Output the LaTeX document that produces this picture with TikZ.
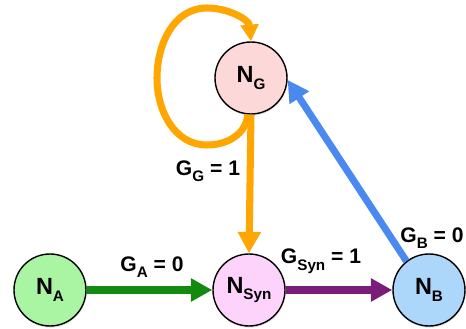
\documentclass[tikz,border=0pt]{standalone}
\usepackage{fontspec}
\setmainfont{Liberation Sans}
\usepackage{xcolor}
\usepackage{tikz}
\usetikzlibrary{arrows.meta,shadows}

\definecolor{nacol}{HTML}{A9F5A4}
\definecolor{nsyncol}{HTML}{FDD3FC}
\definecolor{nbcol}{HTML}{ACD6FA}
\definecolor{ngcol}{HTML}{FDD8D8}
\definecolor{ornge}{HTML}{FFA600}
\definecolor{grn}{HTML}{12890F}
\definecolor{prpl}{HTML}{7A1C7A}
\definecolor{blu}{HTML}{4A89F0}

\newcommand{\lowsub}[1]{\raisebox{-5.5pt}{\fontsize{13}{13}\selectfont #1}}

\begin{document}
\begin{tikzpicture}[x=0.03cm,y=0.03cm,>={Triangle[length=0.64cm,width=0.66cm]},
  nd/.style={circle,draw=black,line width=1.2pt,minimum size=2.16cm,inner sep=0pt,
    font=\fontsize{20}{20}\selectfont\bfseries,drop shadow={opacity=0.2,shadow xshift=0.5pt,shadow yshift=-1.5pt}},
  lbl/.style={font=\fontsize{18}{18}\selectfont\bfseries},
  ar/.style={->,line width=6pt}]
\useasboundingbox (0,0) rectangle (466,328);
\node[nd,fill=ngcol] (NG) at (251,250) {N\lowsub{G}};
\node[nd,fill=nacol] (NA) at (50,38) {N\lowsub{A}};
\node[nd,fill=nsyncol] (NSyn) at (249,38) {N\lowsub{Syn}};
\node[nd,fill=nbcol] (NB) at (429,38) {N\lowsub{B}};
% connections
\draw[ar,ornge,-{Triangle[length=0.5cm,width=0.52cm]}] (NG.265) to[out=265,in=0] (207,183)
  to[out=180,in=-90] (157,250) to[out=90,in=180] (207,320) to[out=0,in=95] (NG.north);
\draw[ar,ornge] (NG.south) -- (NSyn.north);
\draw[ar,grn] (NA) -- (NSyn);
\draw[ar,prpl] (NSyn) -- (NB);
\draw[ar,blu] (NB.128) -- (NG.-3);
% labels
\node[lbl] (lg) at (208,157) {G\lowsub{G} = 1};
\node[lbl] (la) at (152,61) {G\lowsub{A} = 0};
\node[lbl] (lsyn) at (321,67) {G\lowsub{Syn} = 1};
\node[lbl] (lb) at (432,90) {G\lowsub{B} = 0};
\end{tikzpicture}
\end{document}
